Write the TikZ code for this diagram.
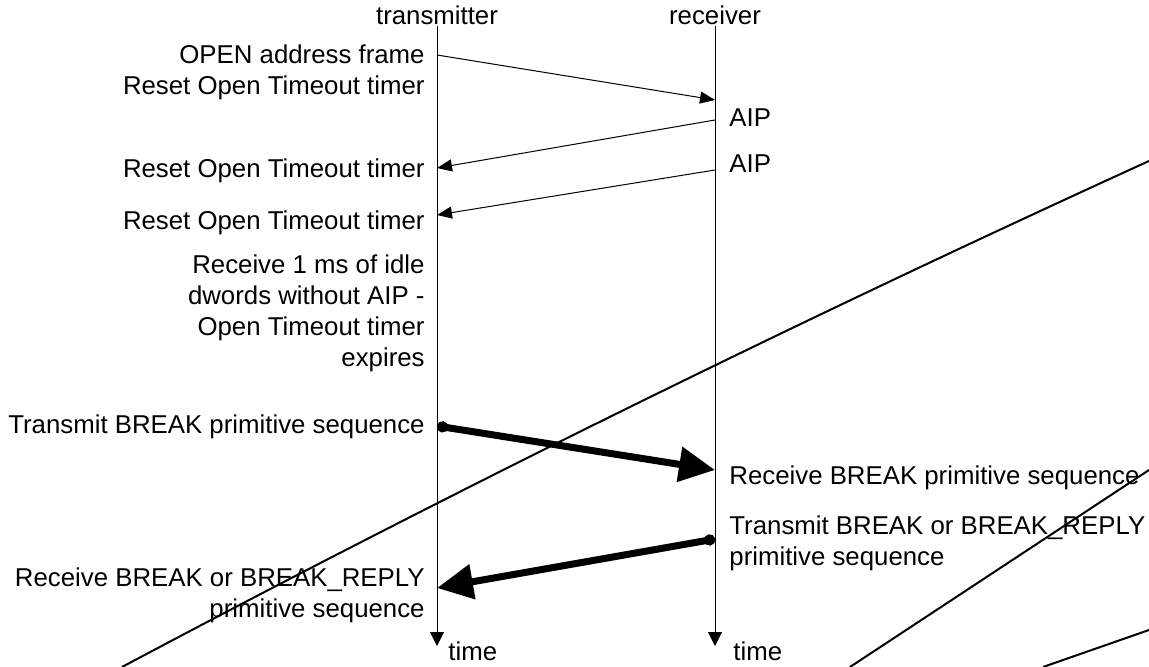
\documentclass[tikz,border=0pt]{standalone}
\usepackage{fontspec}
\setmainfont{Liberation Sans}
\usetikzlibrary{positioning,arrows.meta}

\begin{document}
\begin{tikzpicture}[
  x=0.5pt, y=-0.5pt,
  font=\fontsize{12.9}{15.5}\selectfont,
  lifeline/.style = {line width=0.5pt, -{Triangle[length=7pt,width=7pt]}},
  msg/.style = {line width=0.5pt, -{Triangle[length=7.5pt,width=6pt]}},
  bigmsg/.style = {line width=3.5pt, {Circle[length=5.5pt]}-{Triangle[length=18pt,width=17pt]}},
  lbl/.style = {inner sep=0pt, align=left, anchor=north west},
  lblr/.style = {inner sep=0pt, align=right, anchor=north east},
  stray/.style = {line width=1pt},
]
  \useasboundingbox (0,0) rectangle (1149,667);

  % the two lifelines
  \node[inner sep=0pt, anchor=base] (txhead) at (437,25) {transmitter};
  \node[inner sep=0pt, anchor=base] (rxhead) at (715,25) {receiver};
  \coordinate (txend) at (437,646);
  \coordinate (rxend) at (715,646);
  \draw[lifeline] (txhead.south) -- (txend);
  \draw[lifeline] (rxhead.south) -- (rxend);
  \node[inner sep=0pt, anchor=base west] (txtime) at (448,660) {time};
  \node[inner sep=0pt, anchor=base west] (rxtime) at (733,660) {time};

  % points on the lifelines
  \coordinate (t1) at (437,55);
  \coordinate (r1) at (715,100);
  \coordinate (r2) at (715,120);
  \coordinate (t2) at (437,168);
  \coordinate (r3) at (715,170);
  \coordinate (t3) at (437,215);
  \coordinate (t4) at (437,426);
  \coordinate (r4) at (715,470);
  \coordinate (r5) at (715,539);
  \coordinate (t5) at (437,588);

  % labels
  \node[lblr] (open) at (425,44) {OPEN address frame\\Reset Open Timeout timer};
  \node[lbl]  (aip1) at (729,108) {AIP};
  \node[lbl]  (aip2) at (729,154) {AIP};
  \node[lblr] (reset2) at (425,158) {Reset Open Timeout timer};
  \node[lblr] (reset3) at (425,210) {Reset Open Timeout timer};
  \node[lblr] (idle) at (425,254)
    {Receive 1 ms of idle\\dwords without AIP -\\Open Timeout timer\\expires};
  \node[lblr] (txbreak) at (425,414) {Transmit BREAK primitive sequence};
  \node[lbl]  (rxbreak) at (729,465) {Receive BREAK primitive sequence};
  \node[lbl]  (txreply) at (729,515) {Transmit BREAK or BREAK\_REPLY\\primitive sequence};
  \node[lblr] (rxreply) at (425,567) {Receive BREAK or BREAK\_REPLY\\primitive sequence};

  % messages
  \draw[msg] (t1) -- (r1);
  \draw[msg] (r2) -- (t2);
  \draw[msg] (r3) -- (t3);
  \draw[bigmsg] (t4) -- (r4);
  \draw[bigmsg] (r5) -- (t5);

  % stray strokes across the sheet
  \draw[stray] (122,667) .. controls (464,485) and (807,317) .. (1149,161);
  \draw[stray] (850,667) -- (1149,470);
  \draw[stray] (1043,667) -- (1149,630);
\end{tikzpicture}
\end{document}
